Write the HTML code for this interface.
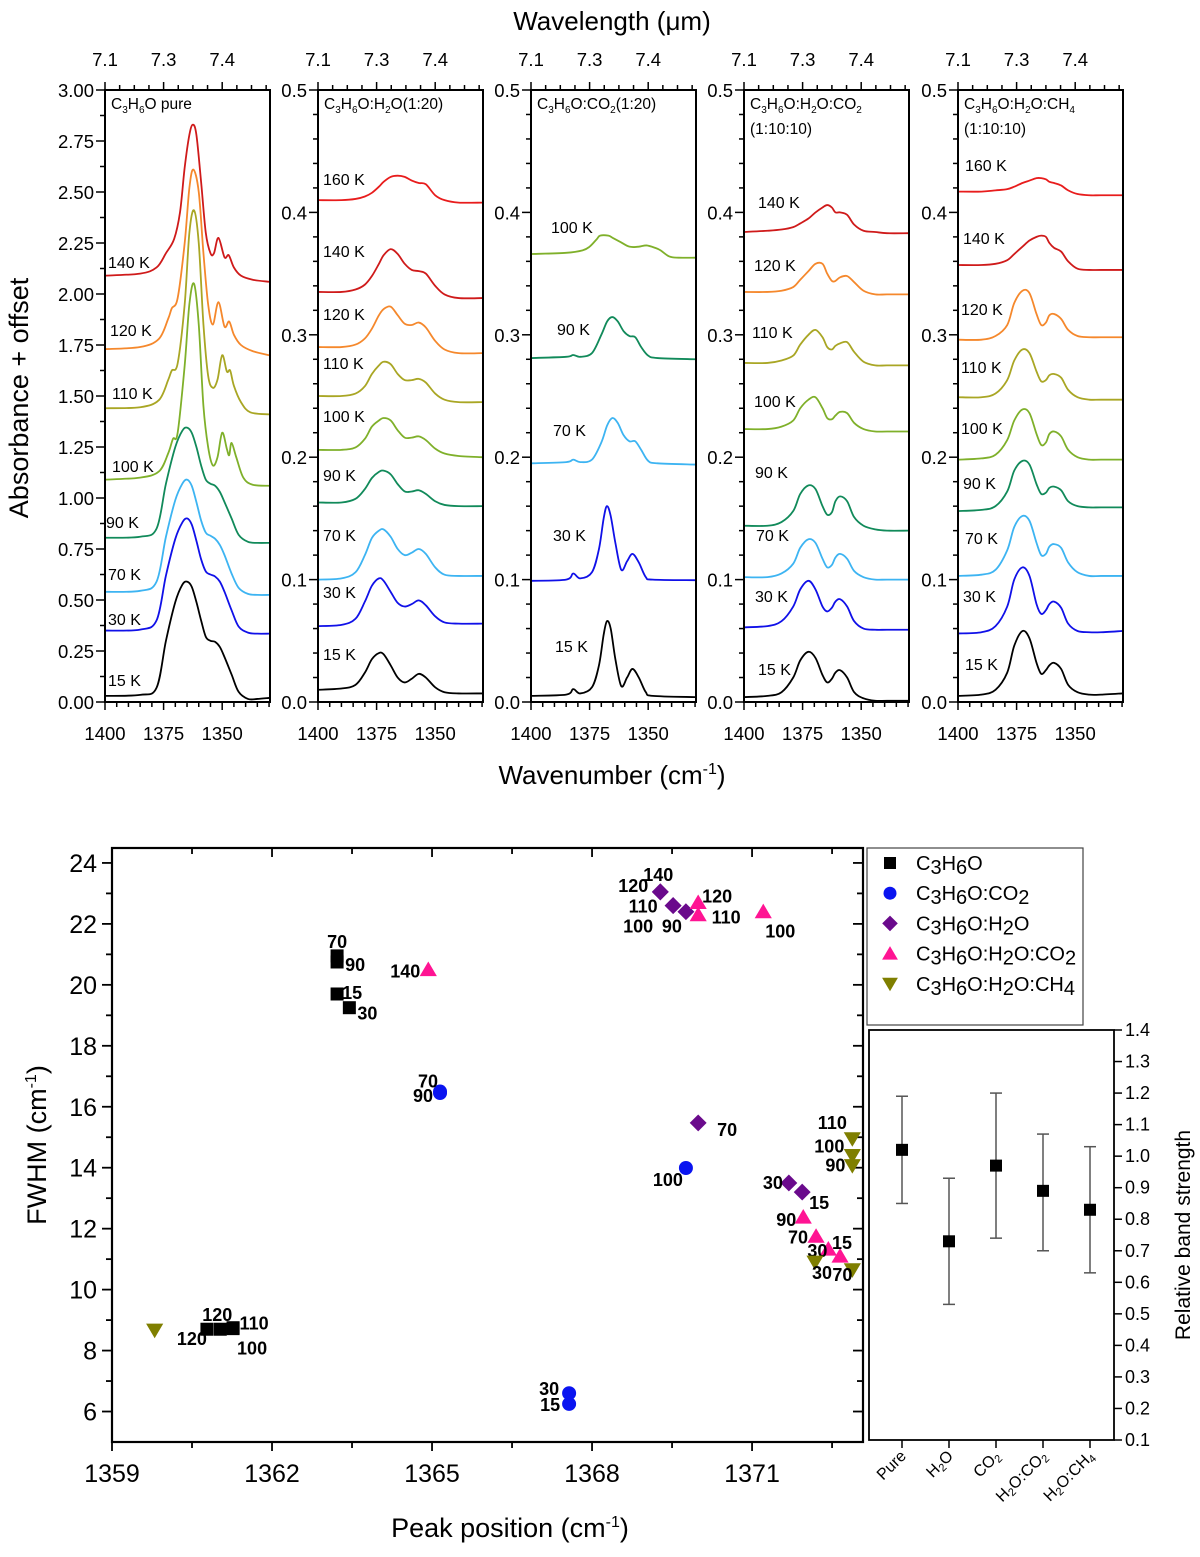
<!DOCTYPE html>
<html><head><meta charset="utf-8"><title>C3H6O spectra and FWHM</title>
<style>
html,body{margin:0;padding:0;background:#fff;}
svg{display:block;font-family:"Liberation Sans",Arial,sans-serif;}
</style></head>
<body>
<svg id="fig" xmlns="http://www.w3.org/2000/svg" width="1200" height="1557" viewBox="0 0 1200 1557">
<g id="spec"></g>
<g id="scat"></g>
<g id="inset"></g>
<text x="612" y="30" font-size="26" text-anchor="middle">Wavelength (μm)</text>
<text x="612" y="784" font-size="26" text-anchor="middle">Wavenumber (cm<tspan dy="-10" font-size="16">-1</tspan><tspan dy="10">)</tspan></text>
<text transform="translate(28,398) rotate(-90)" font-size="27" text-anchor="middle">Absorbance + offset</text>
<text transform="translate(46,1145) rotate(-90)" font-size="27" text-anchor="middle">FWHM (cm<tspan dy="-10" font-size="16">-1</tspan><tspan dy="10">)</tspan></text>
<text x="510" y="1537" font-size="27" text-anchor="middle">Peak position (cm<tspan dy="-10" font-size="16">-1</tspan><tspan dy="10">)</tspan></text>
<text transform="translate(1190,1235) rotate(-90)" font-size="21" text-anchor="middle">Relative band strength</text>
</svg>
<script>
// ---------- Spectra data ----------
const temps1 = ["15 K","30 K","70 K","90 K","100 K","110 K","120 K","140 K"];
const p1GridLow = [1400,1385,1378,1374,1370,1367,1365,1363,1361,1359,1357,1355,1353,1351,1349,1346,1343,1339,1335,1330];
const p1_15 = [0.03,0.035,0.07,0.30,0.49,0.575,0.59,0.565,0.49,0.40,0.32,0.30,0.295,0.27,0.22,0.135,0.05,0.015,0.015,0.02];
const p1_30 = [0.35,0.355,0.40,0.62,0.80,0.88,0.90,0.87,0.79,0.70,0.64,0.625,0.615,0.59,0.54,0.45,0.37,0.34,0.335,0.335];
const p1_70 = [0.54,0.545,0.59,0.81,0.99,1.07,1.09,1.06,0.98,0.89,0.83,0.815,0.80,0.77,0.72,0.63,0.56,0.53,0.525,0.525];
const p1_90 = [0.805,0.81,0.85,1.07,1.25,1.33,1.345,1.32,1.25,1.16,1.09,1.07,1.06,1.03,0.98,0.90,0.82,0.785,0.78,0.78];
const p1_100_wn = [1400,1385,1377,1373,1371,1369,1366,1364,1362,1360,1358,1356,1354,1352,1350,1348,1347,1346,1344,1341,1337,1330];
const p1_100 = [1.09,1.10,1.13,1.22,1.29,1.32,1.65,1.95,2.05,1.85,1.45,1.25,1.16,1.20,1.32,1.24,1.21,1.27,1.20,1.10,1.065,1.06];
const p1_110_wn = [1400,1385,1377,1373,1371.5,1369,1366,1364,1362,1360,1358,1356,1354,1352,1350,1348,1346.6,1345,1342,1338,1330];
const p1_110 = [1.44,1.445,1.48,1.58,1.625,1.66,1.95,2.30,2.41,2.25,1.85,1.60,1.54,1.58,1.70,1.62,1.625,1.55,1.47,1.42,1.41];
const p1_120_wn = [1400,1385,1377,1373,1371.5,1369,1366,1364,1362.3,1360,1358,1356,1354,1351.6,1349,1347,1345,1342,1337,1330];
const p1_120 = [1.73,1.74,1.78,1.88,1.93,1.98,2.25,2.52,2.61,2.50,2.20,1.95,1.85,1.96,1.84,1.865,1.80,1.75,1.72,1.70];
const p1_140_wn = [1400,1385,1378,1374,1370.5,1368,1366,1364,1362.5,1361,1359,1357,1355,1353.5,1351.6,1349,1347.2,1345,1342,1337,1330];
const p1_140 = [2.09,2.10,2.13,2.20,2.27,2.40,2.62,2.78,2.83,2.78,2.55,2.30,2.20,2.20,2.275,2.18,2.19,2.13,2.09,2.07,2.06];

const temps2 = ["15 K","30 K","70 K","90 K","100 K","110 K","120 K","140 K","160 K"];
const p2Grid = [1400,1390,1384,1380,1377,1374,1372,1369,1366,1363,1360,1357,1354,1350,1346,1340,1330];
const p2_15 = [0.010,0.011,0.014,0.024,0.035,0.040,0.039,0.030,0.020,0.016,0.019,0.023,0.020,0.012,0.008,0.007,0.007];
const p2_30 = [0.062,0.063,0.068,0.082,0.095,0.101,0.099,0.090,0.081,0.078,0.080,0.083,0.079,0.070,0.065,0.064,0.064];
const p2_70 = [0.100,0.101,0.106,0.120,0.134,0.140,0.141,0.135,0.125,0.120,0.122,0.125,0.121,0.110,0.104,0.103,0.103];
const p2_90 = [0.163,0.163,0.166,0.174,0.183,0.188,0.189,0.186,0.178,0.172,0.172,0.173,0.170,0.164,0.161,0.160,0.160];
const p2_100 = [0.206,0.206,0.208,0.215,0.225,0.230,0.232,0.230,0.222,0.216,0.216,0.217,0.214,0.207,0.203,0.201,0.200];
const p2_110 = [0.250,0.250,0.252,0.258,0.268,0.275,0.278,0.276,0.268,0.263,0.263,0.264,0.261,0.252,0.247,0.245,0.245];
const p2_120 = [0.290,0.290,0.292,0.297,0.305,0.316,0.321,0.323,0.316,0.309,0.308,0.310,0.306,0.295,0.288,0.285,0.285];
const p2_140 = [0.335,0.335,0.337,0.341,0.348,0.358,0.365,0.370,0.366,0.358,0.353,0.352,0.350,0.340,0.333,0.330,0.330];
const p2_160 = [0.410,0.410,0.411,0.413,0.416,0.421,0.425,0.429,0.430,0.429,0.426,0.424,0.423,0.414,0.410,0.408,0.408];

const temps3 = ["15 K","30 K","70 K","90 K","100 K"];
const p3GridA = [1400,1385,1382,1379,1374,1371,1369,1367.6,1366,1364,1361.5,1359,1356.7,1354,1351,1348,1330];
const p3_15 = [0.005,0.006,0.0105,0.007,0.012,0.03,0.055,0.066,0.06,0.035,0.013,0.02,0.027,0.02,0.008,0.005,0.004];
const p3_30 = [0.099,0.1,0.105,0.101,0.106,0.125,0.15,0.16,0.152,0.13,0.108,0.115,0.121,0.114,0.102,0.1,0.0995];
const p3GridB = [1400,1385,1382,1379,1374,1370,1367.5,1365.3,1363,1360.5,1358,1355.5,1353,1350,1346,1330];
const p3_70 = [0.195,0.196,0.198,0.196,0.198,0.212,0.226,0.232,0.228,0.218,0.213,0.213,0.206,0.197,0.195,0.194];
const p3_90 = [0.281,0.282,0.2835,0.282,0.285,0.30,0.311,0.3145,0.311,0.303,0.299,0.298,0.29,0.283,0.281,0.28];
const p3GridC = [1400,1385,1378,1375,1372,1370.5,1367,1365,1362,1358,1354,1350.7,1347,1344.7,1341,1337,1330];
const p3_100 = [0.366,0.367,0.369,0.372,0.378,0.381,0.381,0.379,0.376,0.372,0.372,0.373,0.371,0.369,0.364,0.363,0.363];

const temps4 = ["15 K","30 K","70 K","90 K","100 K","110 K","120 K","140 K"];
const p45Grid = [1400,1390,1384,1379,1376,1372.5,1369.5,1366.5,1364.5,1362.5,1361,1359,1356,1353,1349,1344,1339,1330];
const p4_15 = [0.004,0.005,0.008,0.020,0.034,0.041,0.036,0.022,0.016,0.019,0.024,0.026,0.020,0.008,0.003,0.001,0.001,0.001];
const p4_30 = [0.061,0.062,0.066,0.078,0.092,0.099,0.092,0.078,0.074,0.077,0.082,0.084,0.078,0.066,0.060,0.059,0.059,0.059];
const p4_70 = [0.102,0.102,0.105,0.113,0.126,0.133,0.130,0.117,0.110,0.112,0.118,0.121,0.117,0.107,0.102,0.100,0.100,0.100];
const p4_90 = [0.144,0.144,0.147,0.156,0.170,0.177,0.174,0.160,0.153,0.155,0.164,0.168,0.164,0.151,0.144,0.141,0.140,0.140];
const p4_100 = [0.223,0.223,0.225,0.230,0.240,0.247,0.249,0.240,0.232,0.231,0.234,0.237,0.236,0.228,0.223,0.221,0.221,0.221];
const p4_110 = [0.277,0.277,0.279,0.283,0.292,0.300,0.304,0.298,0.290,0.288,0.291,0.293,0.294,0.286,0.278,0.275,0.275,0.275];
const p4_120 = [0.335,0.335,0.336,0.339,0.345,0.352,0.358,0.358,0.350,0.344,0.344,0.347,0.348,0.343,0.336,0.333,0.333,0.333];
const p4_140 = [0.384,0.385,0.386,0.388,0.391,0.395,0.400,0.404,0.406,0.404,0.400,0.400,0.398,0.390,0.385,0.384,0.383,0.383];

const temps5 = ["15 K","30 K","70 K","90 K","100 K","110 K","120 K","140 K","160 K"];
const p5_15 = [0.005,0.006,0.010,0.024,0.046,0.058,0.052,0.032,0.023,0.026,0.030,0.032,0.027,0.014,0.008,0.006,0.006,0.007];
const p5_30 = [0.056,0.057,0.062,0.078,0.100,0.110,0.103,0.080,0.072,0.075,0.080,0.082,0.077,0.064,0.058,0.057,0.057,0.058];
const p5_70 = [0.103,0.104,0.108,0.124,0.143,0.152,0.148,0.130,0.120,0.121,0.127,0.129,0.126,0.114,0.106,0.103,0.103,0.103];
const p5_90 = [0.156,0.157,0.160,0.172,0.189,0.197,0.194,0.178,0.170,0.171,0.175,0.176,0.173,0.164,0.160,0.159,0.159,0.159];
const p5_100 = [0.198,0.199,0.202,0.214,0.230,0.239,0.236,0.219,0.210,0.212,0.219,0.221,0.217,0.206,0.200,0.198,0.198,0.198];
const p5_110 = [0.249,0.249,0.252,0.263,0.279,0.288,0.285,0.270,0.262,0.263,0.267,0.268,0.265,0.255,0.249,0.247,0.247,0.247];
const p5_120 = [0.296,0.296,0.299,0.308,0.326,0.336,0.334,0.317,0.308,0.310,0.316,0.317,0.313,0.304,0.299,0.298,0.298,0.298];
const p5_140 = [0.357,0.357,0.358,0.361,0.366,0.372,0.377,0.380,0.381,0.380,0.375,0.371,0.368,0.360,0.354,0.353,0.353,0.353];
const p5_160 = [0.417,0.417,0.418,0.419,0.421,0.424,0.426,0.428,0.428,0.427,0.425,0.424,0.422,0.418,0.415,0.414,0.414,0.414];

// ---------- Scatter data ----------
const seriesNames = ["C3H6O","C3H6O:CO2","C3H6O:H2O","C3H6O:H2O:CO2","C3H6O:H2O:CH4"];
const pureX = [1360.78,1361.03,1361.27,1361.27,1363.22,1363.22,1363.22,1363.45];
const pureY = [8.70,8.70,8.75,8.72,20.95,20.75,19.70,19.25];
const pureLbl = ["120","120","110","100","70","90","15","30"];
const co2X = [1365.15,1365.15,1367.57,1367.57,1369.76];
const co2Y = [16.5,16.45,6.6,6.25,13.99];
const co2Lbl = ["70","90","30","15","100"];
const h2oX = [1369.28,1369.28,1369.52,1369.52,1369.76,1369.99,1371.69,1371.94];
const h2oY = [23.05,23.05,22.6,22.6,22.4,15.47,13.5,13.2];
const h2oLbl = ["140","120","110","100","90","70","30","15"];
const h2oco2X = [1364.93,1369.99,1369.99,1371.21,1371.96,1372.2,1372.43,1372.65];
const h2oco2Y = [20.5,22.7,22.3,22.4,12.38,11.75,11.33,11.1];
const h2oco2Lbl = ["140","120","110","100","90","70","30","15"];
const h2och4X = [1359.8,1372.88,1372.88,1372.88,1372.18,1372.88];
const h2och4Y = [8.67,14.95,14.4,14.07,10.9,10.65];
const h2och4Lbl = ["","110","100","90","30","70"];

// ---------- Inset data ----------
const insetCats = ["Pure","H2O","CO2","H2O:CO2","H2O:CH4"];
const insetVals = [1.02,0.73,0.97,0.89,0.83];
const insetLow = [0.85,0.53,0.74,0.70,0.63];
const insetHigh = [1.19,0.93,1.20,1.07,1.03];

const NS = "http://www.w3.org/2000/svg";
function mk(tag, attrs, parent){
  const e = document.createElementNS(NS, tag);
  for (const k in attrs) e.setAttribute(k, attrs[k]);
  parent.appendChild(e);
  return e;
}
function smoothPath(pts){
  let d = "M" + pts[0][0].toFixed(2) + "," + pts[0][1].toFixed(2);
  for (let i = 0; i < pts.length - 1; i++){
    const p0 = pts[Math.max(0,i-1)], p1 = pts[i], p2 = pts[i+1], p3 = pts[Math.min(pts.length-1,i+2)];
    const c1x = p1[0] + (p2[0]-p0[0])/6, c1y = p1[1] + (p2[1]-p0[1])/6;
    const c2x = p2[0] - (p3[0]-p1[0])/6, c2y = p2[1] - (p3[1]-p1[1])/6;
    d += " C" + c1x.toFixed(2)+","+c1y.toFixed(2)+" "+c2x.toFixed(2)+","+c2y.toFixed(2)+" "+p2[0].toFixed(2)+","+p2[1].toFixed(2);
  }
  return d;
}
const tempColors = {"15 K":"#000000","30 K":"#1010e8","70 K":"#3db4f2","90 K":"#118a5a","100 K":"#7fb02a","110 K":"#a9a624","120 K":"#f5882c","140 K":"#cf1a1a","160 K":"#e81c1c"};

// ---------- Spectra panels ----------
const spec = document.getElementById("spec");
const panelLeft = [105,318,531,744,958];
const PW = 165, PT = 90, PB = 702;
const WN0 = 1400, WN1 = 1329.6;
const panels = [
  {ymax:3.0, title:["C","3","H","6","O pure"], title2:null, temps:temps1,
   wn:[p1GridLow,p1GridLow,p1GridLow,p1GridLow,p1_100_wn,p1_110_wn,p1_120_wn,p1_140_wn],
   ab:[p1_15,p1_30,p1_70,p1_90,p1_100,p1_110,p1_120,p1_140],
   lbl:[[3,686],[3,625],[3,580],[1,528],[7,472],[7,399],[5,336],[3,268]]},
  {ymax:0.5, title:["C","3","H","6","O:H","2","O(1:20)"], title2:null, temps:temps2,
   wn:[p2Grid,p2Grid,p2Grid,p2Grid,p2Grid,p2Grid,p2Grid,p2Grid,p2Grid],
   ab:[p2_15,p2_30,p2_70,p2_90,p2_100,p2_110,p2_120,p2_140,p2_160],
   lbl:[[5,660],[5,598],[5,541],[5,481],[5,422],[5,369],[5,320],[5,257],[5,185]]},
  {ymax:0.5, title:["C","3","H","6","O:CO","2","(1:20)"], title2:null, temps:temps3,
   wn:[p3GridA,p3GridA,p3GridB,p3GridB,p3GridC],
   ab:[p3_15,p3_30,p3_70,p3_90,p3_100],
   lbl:[[24,652],[22,541],[22,436],[26,335],[20,233]]},
  {ymax:0.5, title:["C","3","H","6","O:H","2","O:CO","2",""], title2:"(1:10:10)", temps:temps4,
   wn:[p45Grid,p45Grid,p45Grid,p45Grid,p45Grid,p45Grid,p45Grid,p45Grid],
   ab:[p4_15,p4_30,p4_70,p4_90,p4_100,p4_110,p4_120,p4_140],
   lbl:[[14,675],[11,602],[12,541],[11,478],[10,407],[8,338],[10,271],[14,208]]},
  {ymax:0.5, title:["C","3","H","6","O:H","2","O:CH","4",""], title2:"(1:10:10)", temps:temps5,
   wn:[p45Grid,p45Grid,p45Grid,p45Grid,p45Grid,p45Grid,p45Grid,p45Grid,p45Grid],
   ab:[p5_15,p5_30,p5_70,p5_90,p5_100,p5_110,p5_120,p5_140,p5_160],
   lbl:[[7,670],[5,602],[7,544],[5,489],[3,434],[3,373],[3,315],[5,244],[7,171]]}
];
const topLabels = ["7.1","7.3","7.4"];
const botLabels = [1400,1375,1350];

panels.forEach((P, pi) => {
  const L = panelLeft[pi];
  const g = mk("g", {}, spec);
  
  
  const xs = wn => L + (WN0 - wn) / (WN0 - WN1) * PW;
  const ys = v => PB - v / P.ymax * (PB - PT);
  P.ab.forEach((arr, ti) => {
    const pts = arr.map((v, i) => [xs(P.wn[ti][i]), ys(v)]);
    const path = mk("path", {d: smoothPath(pts), fill:"none", stroke: tempColors[P.temps[ti]], "stroke-width":"1.8"}, g);
    
    
    const t = mk("text", {x: L + P.lbl[ti][0], y: P.lbl[ti][1], "font-size":"16"}, g);
    t.textContent = P.temps[ti];
    
    
  });
  const fr = mk("rect", {x:L, y:PT, width:PW, height:PB-PT, fill:"none", stroke:"#000", "stroke-width":"2"}, g);
  
  
  for (let w = 1400; w >= 1330; w -= 5){
    const major = (w % 25 === 0);
    mk("line", {x1:xs(w), x2:xs(w), y1:PB, y2:PB+(major?8:5), stroke:"#000", "stroke-width":"1.5"}, g);
  }
  botLabels.forEach(w => {
    const t = mk("text", {x:xs(w), y:PB+38, "font-size":"18.5", "text-anchor":"middle"}, g);
    t.textContent = w;
    
    
  });
  for (let i = 0; i < 12; i++){
    const major = (i % 4 === 0 && i < 9);
    const x = L + i * 14.65;
    mk("line", {x1:x, x2:x, y1:PT, y2:PT-(major?8:5), stroke:"#000", "stroke-width":"1.5"}, g);
  }
  topLabels.forEach((s, i) => {
    const t = mk("text", {x: L + i*4*14.65, y: 66, "font-size":"18.5", "text-anchor":"middle"}, g);
    t.textContent = s;
    
    
  });
  const majorStep = P.ymax === 3 ? 0.25 : 0.1;
  const minorStep = P.ymax === 3 ? 0.125 : 0.02;
  for (let v = 0; v <= P.ymax + 1e-9; v += minorStep){
    const y = ys(v);
    const isMaj = Math.abs(v/majorStep - Math.round(v/majorStep)) < 1e-6;
    mk("line", {x1:L, x2:L-(isMaj?9:5), y1:y, y2:y, stroke:"#000", "stroke-width":"1.5"}, g);
  }
  for (let k = 0; k * majorStep <= P.ymax + 1e-9; k++){
    const v = k * majorStep;
    const t = mk("text", {x:L-11, y:ys(v)+7, "font-size":"18.5", "text-anchor":"end"}, g);
    t.textContent = v.toFixed(P.ymax === 3 ? 2 : 1);
    
    
  }
  const tt = mk("text", {x:L+6, y:PT+19, "font-size":"15.5"}, g);
  
  
  P.title.forEach((s, i) => {
    if (!s) return;
    const sp = document.createElementNS(NS, "tspan");
    if (i % 2 === 1){ sp.setAttribute("font-size","10"); sp.setAttribute("dy","4"); }
    else if (i > 0){ sp.setAttribute("dy","-4"); }
    sp.textContent = s;
    tt.appendChild(sp);
  });
  if (P.title2){
    const t2 = mk("text", {x:L+6, y:PT+44, "font-size":"15.5"}, g);
    t2.textContent = P.title2;
    
    
  }
});

// ---------- Scatter ----------
const scat = document.getElementById("scat");
const SX0 = 112, SX1 = 863, SY0 = 848, SY1 = 1442;
const XMIN = 1359, XMAX = 1373.08, YMIN = 5.0, YMAX = 24.49;
const sx = v => SX0 + (v - XMIN) / (XMAX - XMIN) * (SX1 - SX0);
const sy = v => SY1 - (v - YMIN) / (YMAX - YMIN) * (SY1 - SY0);
const sfr = mk("rect", {x:SX0, y:SY0, width:SX1-SX0, height:SY1-SY0, fill:"none", stroke:"#000", "stroke-width":"2.2"}, scat);


for (let v = 1359; v <= 1373; v += 1.5){
  const major = Math.abs((v-1359)/3 - Math.round((v-1359)/3)) < 1e-6;
  mk("line", {x1:sx(v), x2:sx(v), y1:SY1, y2:SY1+(major?9:6), stroke:"#000", "stroke-width":"1.8"}, scat);
  mk("line", {x1:sx(v), x2:sx(v), y1:SY0, y2:SY0+(major?9:6), stroke:"#000", "stroke-width":"1.8"}, scat);
  if (major){
    const t = mk("text", {x:sx(v), y:SY1+40, "font-size":"25", "text-anchor":"middle"}, scat);
    t.textContent = v;
    
    
  }
}
for (let v = 6; v <= 24; v += 1){
  const major = v % 2 === 0;
  mk("line", {x1:SX0, x2:SX0-(major?10:6), y1:sy(v), y2:sy(v), stroke:"#000", "stroke-width":"1.8"}, scat);
  mk("line", {x1:SX1, x2:SX1-(major?10:6), y1:sy(v), y2:sy(v), stroke:"#000", "stroke-width":"1.8"}, scat);
  if (major){
    const t = mk("text", {x:SX0-15, y:sy(v)+9, "font-size":"25", "text-anchor":"end"}, scat);
    t.textContent = v;
    
    
  }
}
function marker(g, type, x, y, color, s){
  let e;
  if (type === "square") e = mk("rect", {x:x-s/2, y:y-s/2, width:s, height:s, fill:color}, g);
  else if (type === "circle") e = mk("circle", {cx:x, cy:y, r:s/2+0.5, fill:color}, g);
  else if (type === "diamond") e = mk("path", {d:`M${x},${y-s*0.65} L${x+s*0.65},${y} L${x},${y+s*0.65} L${x-s*0.65},${y} Z`, fill:color}, g);
  else if (type === "up") e = mk("path", {d:`M${x},${y-s*0.62} L${x+s*0.66},${y+s*0.5} L${x-s*0.66},${y+s*0.5} Z`, fill:color}, g);
  else e = mk("path", {d:`M${x},${y+s*0.62} L${x+s*0.66},${y-s*0.5} L${x-s*0.66},${y-s*0.5} Z`, fill:color}, g);
  return e;
}
const seriesDefs = [
  {X:pureX, Y:pureY, L:pureLbl, type:"square", color:"#000000",
   off:[[-15,10],[-3,-14],[21,-4],[19,20],[0,-14],[18,3],[15,-1],[18,6]]},
  {X:co2X, Y:co2Y, L:co2Lbl, type:"circle", color:"#0a14f0",
   off:[[-12,-10],[-17,3],[-20,-4],[-19,1],[-18,12]]},
  {X:h2oX, Y:h2oY, L:h2oLbl, type:"diamond", color:"#6a0a8c",
   off:[[-2,-17],[-27,-6],[-30,1],[-35,21],[-14,15],[29,7],[-16,0],[17,11]]},
  {X:h2oco2X, Y:h2oco2Y, L:h2oco2Lbl, type:"up", color:"#ff1493",
   off:[[-23,2],[19,-6],[28,3],[17,20],[-17,3],[-18,1],[-11,2],[2,-13]]},
  {X:h2och4X, Y:h2och4Y, L:h2och4Lbl, type:"down", color:"#7f7f00",
   off:[[0,0],[-20,-16],[-23,-9],[-17,0],[7,11],[-10,5]]}
];
seriesDefs.forEach((S, si) => {
  const g = mk("g", {}, scat);
  
  
  S.X.forEach((xv, i) => {
    const m = marker(g, S.type, sx(xv), sy(S.Y[i]), S.color, 13);
    
    
  });
  S.X.forEach((xv, i) => {
    if (!S.L[i]) return;
    const t = mk("text", {x:sx(xv)+S.off[i][0], y:sy(S.Y[i])+S.off[i][1]+6, "font-size":"18", "font-weight":"bold", "text-anchor":"middle"}, g);
    t.textContent = S.L[i];
    
    
  });
});
const leg = mk("g", {}, scat);


mk("rect", {x:867, y:848, width:216, height:177, fill:"#fff", stroke:"#444", "stroke-width":"1.2"}, leg);
const legParts = [
  [["C",""],["3","s"],["H",""],["6","s"],["O",""]],
  [["C",""],["3","s"],["H",""],["6","s"],["O:CO",""],["2","s"]],
  [["C",""],["3","s"],["H",""],["6","s"],["O:H",""],["2","s"],["O",""]],
  [["C",""],["3","s"],["H",""],["6","s"],["O:H",""],["2","s"],["O:CO",""],["2","s"]],
  [["C",""],["3","s"],["H",""],["6","s"],["O:H",""],["2","s"],["O:CH",""],["4","s"]]
];
seriesDefs.forEach((S, i) => {
  const y = 863 + i * 30.2;
  const m = marker(leg, S.type, 890, y, S.color, 12);
  
  
  const t = mk("text", {x:916, y:y+7, "font-size":"20"}, leg);
  
  
  let sub = false;
  legParts[i].forEach(p => {
    const sp = document.createElementNS(NS, "tspan");
    if (p[1] === "s" && !sub){ sp.setAttribute("dy","4"); sub = true; }
    else if (p[1] !== "s" && sub){ sp.setAttribute("dy","-4"); sub = false; }
    sp.textContent = p[0];
    t.appendChild(sp);
  });
});

// ---------- Inset ----------
const ins = document.getElementById("inset");
const IX0 = 869, IX1 = 1114, IY0 = 1030, IY1 = 1440;
const iy = v => IY1 - (v - 0.1) / 1.3 * (IY1 - IY0);
const ix = i => 902 + i * 47;
const ifr = mk("rect", {x:IX0, y:IY0, width:IX1-IX0, height:IY1-IY0, fill:"#fff", stroke:"#000", "stroke-width":"1.8"}, ins);


for (let k = 1; k <= 14; k++){
  const v = k / 10;
  mk("line", {x1:IX1, x2:IX1+8, y1:iy(v), y2:iy(v), stroke:"#000", "stroke-width":"1.5"}, ins);
  const t = mk("text", {x:IX1+11, y:iy(v)+6, "font-size":"18"}, ins);
  t.textContent = v.toFixed(1);
  
  
}
const catSubs = [[["Pure",""]],[["H",""],["2","s"],["O",""]],[["CO",""],["2","s"]],[["H",""],["2","s"],["O:CO",""],["2","s"]],[["H",""],["2","s"],["O:CH",""],["4","s"]]];
insetCats.forEach((c, i) => {
  const x = ix(i);
  mk("line", {x1:x, x2:x, y1:IY1, y2:IY1+8, stroke:"#000", "stroke-width":"1.5"}, ins);
  const eb = mk("g", {stroke:"#555", "stroke-width":"1.5"}, ins);
  
  
  mk("line", {x1:x, x2:x, y1:iy(insetHigh[i]), y2:iy(insetLow[i])}, eb);
  mk("line", {x1:x-6, x2:x+6, y1:iy(insetHigh[i]), y2:iy(insetHigh[i])}, eb);
  mk("line", {x1:x-6, x2:x+6, y1:iy(insetLow[i]), y2:iy(insetLow[i])}, eb);
  const m = mk("rect", {x:x-6, y:iy(insetVals[i])-6, width:12, height:12, fill:"#000"}, ins);
  
  
  const t = mk("text", {transform:`translate(${x+5},${IY1+17}) rotate(-45)`, "font-size":"16", "text-anchor":"end"}, ins);
  
  
  let sub = false;
  catSubs[i].forEach(p => {
    const sp = document.createElementNS(NS, "tspan");
    if (p[1] === "s"){ sp.setAttribute("font-size","11"); if(!sub){sp.setAttribute("dy","3"); sub=true;} }
    else if (sub){ sp.setAttribute("dy","-3"); sub=false; }
    sp.textContent = p[0];
    t.appendChild(sp);
  });
});
</script>
</body></html>
